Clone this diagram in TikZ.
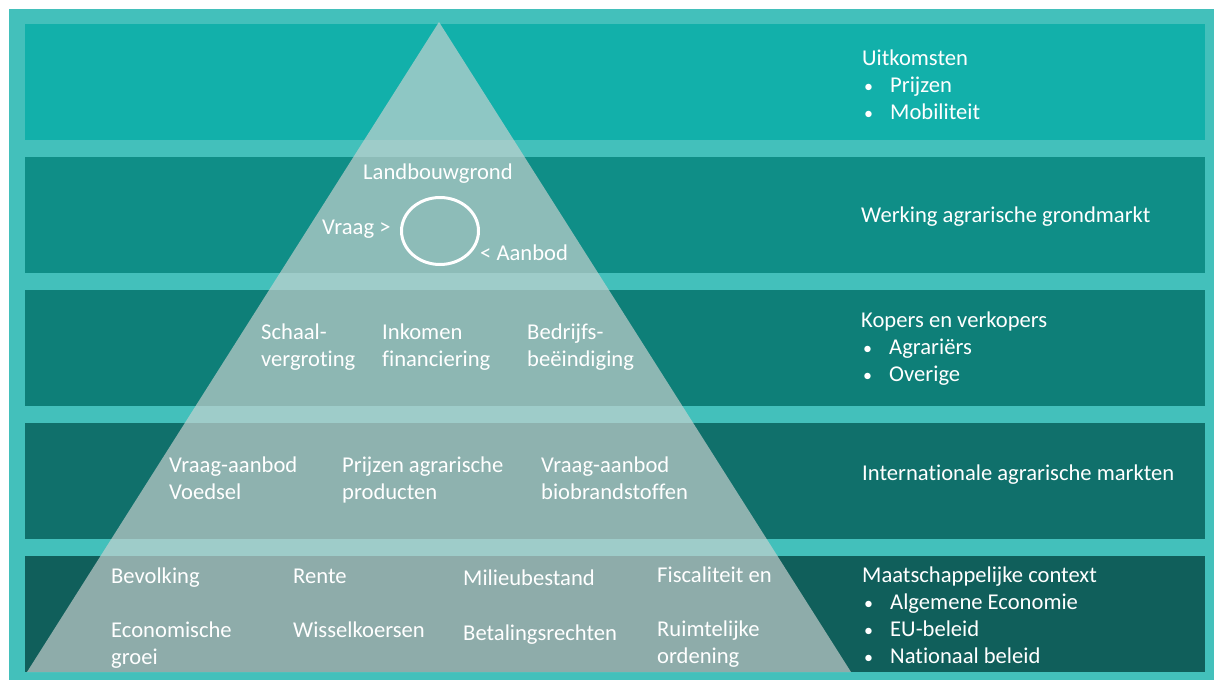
\documentclass[tikz,border=0pt]{standalone}
\usepackage{fontspec}
\setmainfont{Carlito}[Ligatures=NoCommon]
\usetikzlibrary{shapes.geometric}
\definecolor{outer}{HTML}{43C0BB}
\definecolor{bandA}{HTML}{12B0AA}
\definecolor{bandB}{HTML}{0F8E87}
\definecolor{bandC}{HTML}{0E7F78}
\definecolor{bandD}{HTML}{10706B}
\definecolor{bandE}{HTML}{105F5B}
\definecolor{pyr}{RGB}{204,211,209}
\tikzset{
  lbl/.style={text=white, font=\fontsize{22.6}{27}\selectfont, inner sep=0pt, anchor=base west, align=left},
  bandbox/.style={draw=none, inner sep=0pt, minimum width=1180pt, minimum height=116pt, anchor=north west}
}
\newcommand{\bitem}[1]{\makebox[28pt][l]{\hspace{2pt}{\fontsize{18}{27}\selectfont •}}#1}
\begin{document}
\begin{tikzpicture}[x=1pt,y=-1pt]
\useasboundingbox (0,0) rectangle (1214,680);
\fill[white] (0,0) rectangle (1214,680);
\fill[outer] (9,9) rectangle (1214,680);
\node[bandbox, fill=bandA] (b1) at (25,24) {};
\node[bandbox, fill=bandB] (b2) at (25,157) {};
\node[bandbox, fill=bandC] (b3) at (25,290) {};
\node[bandbox, fill=bandD] (b4) at (25,423) {};
\node[bandbox, fill=bandE] (b5) at (25,556) {};
\fill[pyr, opacity=0.67] (439,22) -- (27,672) -- (851,672) -- cycle;
% right column (multi-line nodes: base = last line)
\node[lbl] (t1) at (862,119) {Uitkomsten\\\bitem{Prijzen}\\\bitem{Mobiliteit}};
\node[lbl] (t2) at (861,222) {Werking agrarische grondmarkt};
\node[lbl] (t3) at (861,381) {Kopers en verkopers\\\bitem{Agrariërs}\\\bitem{Overige}};
\node[lbl] (t4) at (862,480) {Internationale agrarische markten};
\node[lbl] (t5) at (862,663) {Maatschappelijke context\\\bitem{Algemene Economie}\\\bitem{EU-beleid}\\\bitem{Nationaal beleid}};
% pyramid level 2
\node[lbl] (land) at (363,179) {Landbouwgrond};
\node[draw=white, line width=3pt, ellipse, minimum width=77pt, minimum height=67pt, inner sep=0pt] (circ) at (440,231) {};
\node[lbl] (vraag) at (322,234) {Vraag >};
\node[lbl] (aanbod) at (480,260) {< Aanbod};
% level 3
\node[lbl] (schaal) at (261,366) {Schaal-\\vergroting};
\node[lbl] (inkomen) at (382,366) {Inkomen\\financiering};
\node[lbl] (bedrijf) at (527,366) {Bedrijfs-\\beëindiging};
% level 4
\node[lbl] (voedsel) at (169,499) {Vraag-aanbod\\Voedsel};
\node[lbl] (prijzen) at (342,499) {Prijzen agrarische\\producten};
\node[lbl] (bio) at (541,499) {Vraag-aanbod\\biobrandstoffen};
% level 5
\node[lbl] (bevolking) at (111,583) {Bevolking};
\node[lbl] (econ) at (111,664) {Economische\\groei};
\node[lbl] (rente) at (293,583) {Rente};
\node[lbl] (wissel) at (293,637) {Wisselkoersen};
\node[lbl] (milieu) at (463,585) {Milieubestand};
\node[lbl] (betaling) at (463,640) {Betalingsrechten};
\node[lbl] (fisc) at (657,582) {Fiscaliteit en};
\node[lbl] (ruimte) at (657,663) {Ruimtelijke\\ordening};
\end{tikzpicture}
\end{document}
